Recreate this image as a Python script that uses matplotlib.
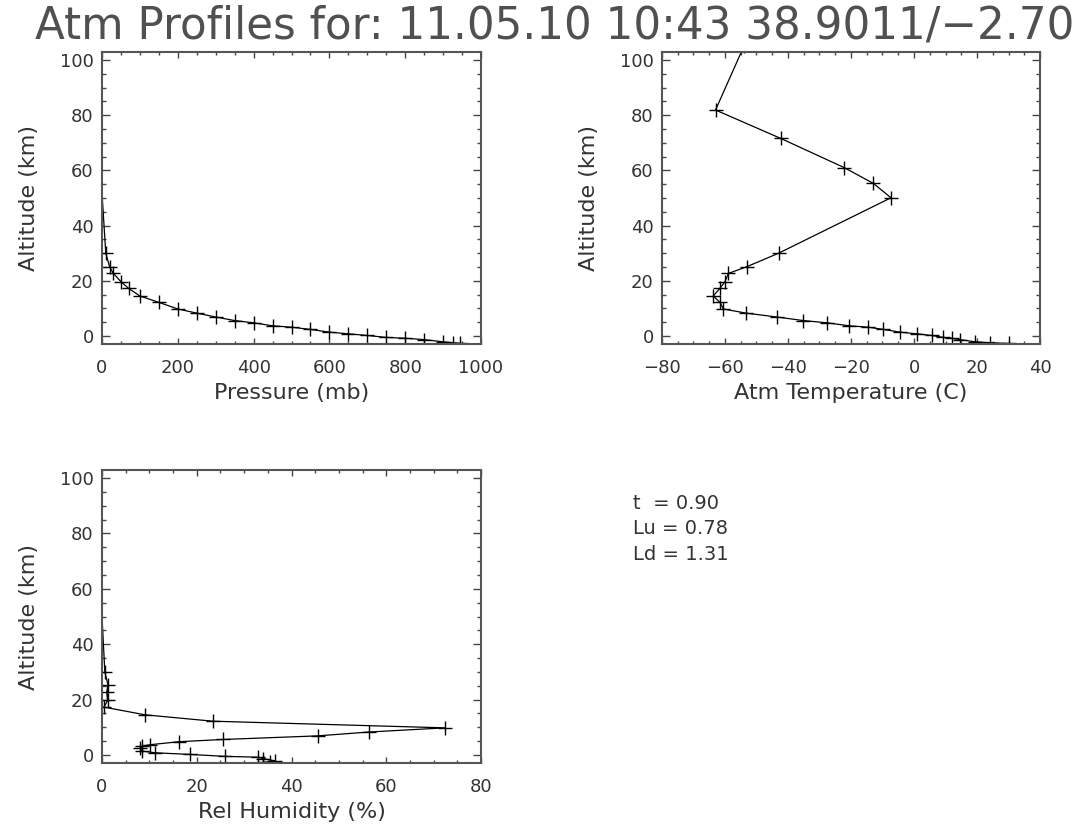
import matplotlib
matplotlib.use('Agg')
import matplotlib.pyplot as plt
from matplotlib.ticker import MultipleLocator

# profile levels, surface first
altitude = [-2.7, -2.4, -2.1, -1.3, -0.8, -0.5, 0.2, 0.8, 1.4, 2.4,
            3.2, 3.7, 4.8, 5.6, 6.9, 8.3, 9.8, 12.2, 14.5, 17.3,
            19.7, 22.7, 25.1, 30.0, 50.1, 55.3, 61.0, 71.6, 81.9, 105.0]
pressure = [945, 925, 900, 850, 800, 750, 700, 650, 600, 550,
            500, 450, 400, 350, 300, 250, 200, 150, 100, 70,
            50, 30, 20, 10, 0.8, 0.43, 0.22, 0.05, 0.01, 0.0003]
temperature = [30.0, 24.0, 19.5, 14.6, 12.0, 9.3, 5.6, 0.9, -4.4, -9.7,
               -14.5, -20.5, -27.7, -35.1, -43.6, -53.3, -60.5, -61.6, -63.7, -61.6,
               -60.0, -58.9, -53.1, -43.0, -7.3, -12.9, -22.1, -42.3, -63.0, -54.0]
humidity = [34.0, 35.5, 36.5, 34.0, 33.0, 26.0, 18.6, 11.2, 8.5, 8.0,
            8.5, 10.1, 16.3, 25.5, 45.5, 56.4, 72.4, 23.4, 9.1, 0.4,
            1.2, 1.0, 1.3, 0.6, 0.0, 0.0, 0.0, 0.0, 0.0, 0.0]

title = 'Atm Profiles for: 11.05.10 10:43 38.9011/\u22122.70'
results = ['t  = 0.90', 'Lu = 0.78', 'Ld = 1.31']

txt = '#333333'
plt.rcParams['font.family'] = 'DejaVu Sans'

fig = plt.figure(figsize=(10.92, 8.30), dpi=100)

# the upper levels sit on the left axis in the pressure / humidity panels
low_levels = [i for i, a in enumerate(altitude) if a <= 30]


def profile(rect, x, xlabel, xlim, major, minor, marks=None):
    ax = fig.add_axes(rect)
    ax.plot(x, altitude, color='black', lw=0.9, marker='+', ms=10, mew=1.0,
            markevery=marks)
    ax.set_xlim(xlim)
    ax.set_ylim(-2.9, 102.9)
    ax.xaxis.set_major_locator(MultipleLocator(major))
    ax.xaxis.set_minor_locator(MultipleLocator(minor))
    ax.yaxis.set_major_locator(MultipleLocator(20))
    ax.yaxis.set_minor_locator(MultipleLocator(5))
    ax.tick_params(which='both', direction='in', top=True, right=True,
                   color='#444444', width=1.0, labelsize=13, labelcolor=txt)
    ax.tick_params(axis='x', which='major', length=4.5, pad=11)
    ax.tick_params(axis='x', which='minor', length=2.5)
    ax.tick_params(axis='y', which='major', length=6, pad=6)
    ax.tick_params(axis='y', which='minor', length=3)
    for s in ax.spines.values():
        s.set_color('#555555')
        s.set_linewidth(1.5)
    ax.set_xlabel(xlabel, fontsize=16, color=txt, labelpad=4)
    ax.set_ylabel('Altitude (km)', fontsize=16, color=txt, labelpad=15)
    return ax


profile([0.0934, 0.5855, 0.3471, 0.3518], pressure, 'Pressure (mb)', (0, 1000), 200, 50, low_levels)
profile([0.6062, 0.5855, 0.3462, 0.3518], temperature, 'Atm Temperature (C)', (-80, 40), 20, 5)
profile([0.0934, 0.0807, 0.3471, 0.3530], humidity, 'Rel Humidity (%)', (0, 80), 20, 5, low_levels)

# title across the top
fig.text(35 / 1092, 1 - 38 / 830, title, fontsize=31.4, color='#505050', va='baseline')

# transmission and radiance values
for i, line in enumerate(results):
    fig.text(633 / 1092, 1 - (503 + 25.5 * i) / 830, line, fontsize=14, color=txt, va='center')

fig.savefig('out.png', dpi=100)
